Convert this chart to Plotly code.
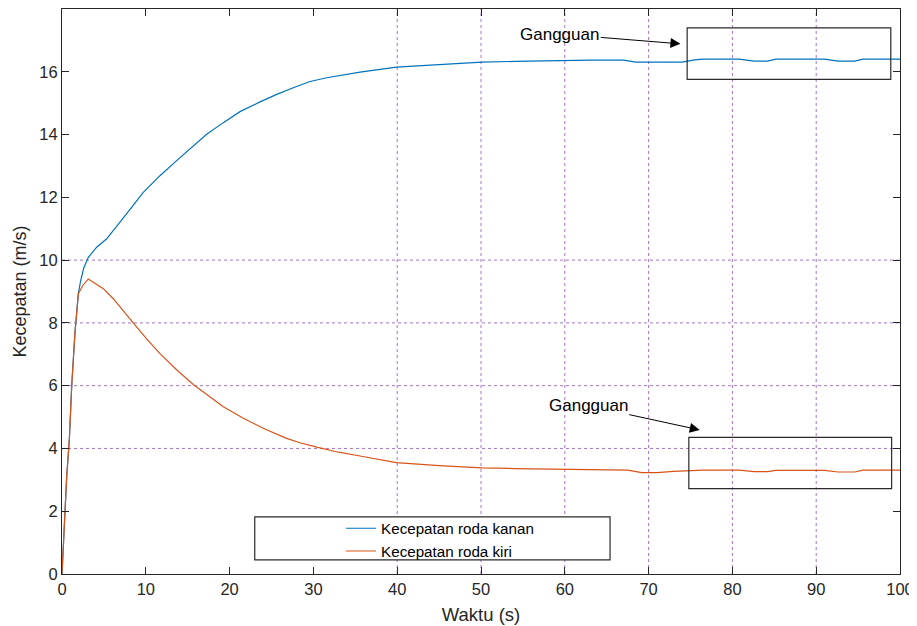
import plotly.graph_objects as go

# ---- data ----
t_kanan = [0, 0.16, 0.56, 0.88, 1.16, 1.55, 1.95, 2.23, 2.6, 3.14, 4.14, 5.33, 6.92, 8.31, 9.7,
           11.69, 13.68, 15.67, 17.26, 19.25, 21.24, 23.63, 25.62, 27.6, 29.6, 31.59, 33.6,
           35.56, 39.9, 45, 50.1, 54, 58.6, 63, 67, 68.5, 74, 75.5, 76.5, 80.8, 82.6, 84.2,
           85.2, 91, 92.6, 94.6, 95.6, 100]
v_kanan = [0, 0.9, 3.1, 4.3, 6.0, 7.7, 8.93, 9.35, 9.75, 10.09, 10.41, 10.68, 11.2, 11.68, 12.16,
           12.69, 13.17, 13.64, 14.01, 14.38, 14.73, 15.04, 15.28, 15.49, 15.69, 15.81, 15.9,
           15.99, 16.15, 16.24, 16.31, 16.33, 16.36, 16.37, 16.37, 16.31, 16.31, 16.38, 16.4,
           16.4, 16.34, 16.34, 16.4, 16.4, 16.34, 16.34, 16.4, 16.4]

t_kiri = [0, 0.16, 0.56, 0.88, 1.16, 1.55, 1.95, 2.5, 3.14, 4.93, 6.12, 8.5, 10, 11.69, 13.7,
          15.67, 19.25, 21.64, 24.2, 26.8, 28.4, 30.4, 33, 35.56, 39.9, 45, 50.1, 54, 58.6, 64.5,
          67.5, 69.2, 71, 73, 75.5, 76.5, 80.8, 82.6, 84.2, 85.2, 91, 92.6, 94.6, 95.6, 100]
v_kiri = [0, 0.9, 3.1, 4.3, 6.0, 7.7, 8.93, 9.2, 9.4, 9.09, 8.77, 8.0, 7.52, 7.02, 6.5, 6.04,
          5.33, 4.96, 4.62, 4.32, 4.18, 4.04, 3.88, 3.76, 3.55, 3.45, 3.38, 3.36, 3.34, 3.31,
          3.31, 3.23, 3.23, 3.27, 3.29, 3.31, 3.31, 3.26, 3.26, 3.3, 3.3, 3.25, 3.25, 3.31, 3.31]

series_names = ["Kecepatan roda kanan", "Kecepatan roda kiri"]
x_ticks = [0, 10, 20, 30, 40, 50, 60, 70, 80, 90, 100]
y_ticks = [0, 2, 4, 6, 8, 10, 12, 14, 16]
grid_x = [40, 50, 60, 70, 80, 90]
grid_y = [4, 6, 8, 10]
annot_text = "Gangguan"

# annotation geometry (data coords)
box1 = dict(x0=74.6, x1=98.9, y0=15.76, y1=17.4)
box2 = dict(x0=74.8, x1=99.0, y0=2.72, y1=4.35)
arrow1 = dict(tail=(59.4, 17.2), head=(73.8, 16.89))
arrow2 = dict(tail=(62.8, 5.36), head=(76.1, 4.59))
legend_box = dict(x0=23.0, x1=65.4, y0=0.45, y1=1.82)

FONT = "Liberation Sans, Arial, sans-serif"
GRID_COLOR = "rgba(150,90,190,0.85)"
AXIS_COLOR = "#262626"

fig = go.Figure()
fig.add_trace(go.Scatter(x=t_kanan, y=v_kanan, mode="lines", name=series_names[0],
                         line=dict(color="#0072BD", width=1.2)))
fig.add_trace(go.Scatter(x=t_kiri, y=v_kiri, mode="lines", name=series_names[1],
                         line=dict(color="#D95319", width=1.2)))

shapes = []
for gx in grid_x:
    shapes.append(dict(type="line", xref="x", yref="paper", x0=gx, x1=gx, y0=0, y1=1,
                       line=dict(color=GRID_COLOR, width=1, dash="dot"), layer="below"))
for gy in grid_y:
    shapes.append(dict(type="line", xref="paper", yref="y", x0=0, x1=1, y0=gy, y1=gy,
                       line=dict(color=GRID_COLOR, width=1, dash="dot"), layer="below"))
for b in (box1, box2):
    shapes.append(dict(type="rect", xref="x", yref="y", **b,
                       line=dict(color="#2a2a2a", width=1.2), fillcolor="rgba(0,0,0,0)"))
shapes.append(dict(type="rect", xref="x", yref="y", **legend_box,
                   line=dict(color="#2a2a2a", width=1.2), fillcolor="white", layer="above"))

annotations = []
for a in (arrow1, arrow2):
    annotations.append(dict(x=a["head"][0], y=a["head"][1], ax=a["tail"][0], ay=a["tail"][1],
                            xref="x", yref="y", axref="x", ayref="y", text=annot_text,
                            showarrow=True, arrowhead=2, arrowsize=2, arrowwidth=1,
                            arrowcolor="black", font=dict(family=FONT, size=17, color="black")))

fig.update_layout(
    width=917, height=626,
    margin=dict(l=54, r=25, t=1, b=60),
    paper_bgcolor="white", plot_bgcolor="white",
    font=dict(family=FONT, size=16.5, color=AXIS_COLOR),
    shapes=shapes, annotations=annotations,
    showlegend=True,
    legend=dict(x=0.333, y=0.11, xanchor="left", yanchor="top",
                bgcolor="rgba(0,0,0,0)", borderwidth=0,
                font=dict(family=FONT, size=15.2, color="black"),
                tracegroupgap=0, itemwidth=30),
    xaxis=dict(range=[0, 100], tickvals=x_ticks, ticks="inside", ticklen=7, tickcolor=AXIS_COLOR,
               showline=True, linecolor=AXIS_COLOR, linewidth=1, mirror="ticks",
               showgrid=False, zeroline=False,
               title=dict(text="Waktu (s)", font=dict(size=18.5), standoff=11),
               tickfont=dict(size=16.5)),
    yaxis=dict(range=[0, 18], tickvals=y_ticks, ticks="inside", ticklen=7, tickcolor=AXIS_COLOR,
               showline=True, linecolor=AXIS_COLOR, linewidth=1, mirror="ticks",
               showgrid=False, zeroline=False,
               title=dict(text="Kecepatan (m/s)", font=dict(size=18), standoff=8),
               tickfont=dict(size=16.5)),
)

fig.write_html("out.html")
